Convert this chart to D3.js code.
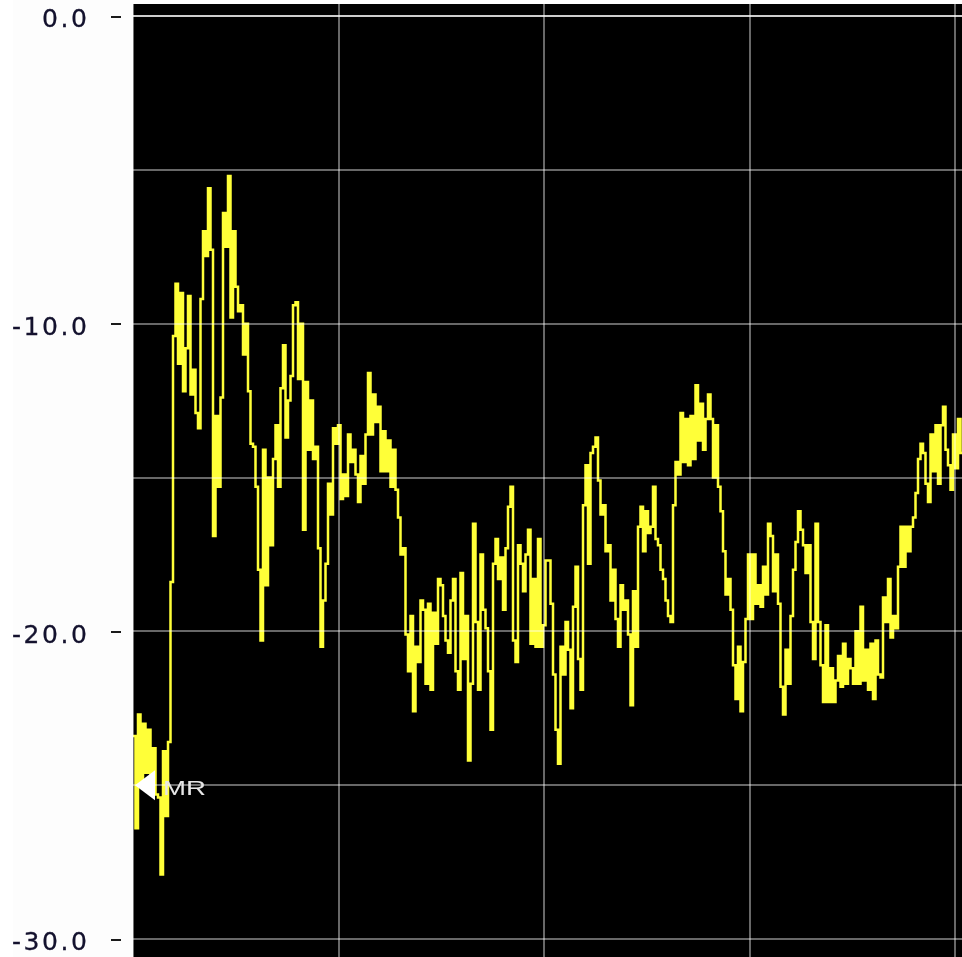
<!DOCTYPE html>
<html><head><meta charset="utf-8">
<script src="https://cdn.jsdelivr.net/npm/d3@7"></script>
<style>html,body{margin:0;padding:0;background:#fdfdfd;overflow:hidden}</style>
</head><body><svg id="c" width="962" height="957"></svg>
<script>
// ---- data ----
const yGridValues = [0, -5, -10, -15, -20, -25, -30];
const yLabelValues = [0, -10, -20, -30];
const xDivisions = [0, 1, 2, 3, 4];
const samplesPerDivision = 82.2;
const markerLevel = -25;
const markerLabel = "MR";
const trace = [
  -23.4, -26.4, -22.7, -25.0, -23.0, -24.6, -23.2, -24.8, -23.8, -25.3, -25.4, -27.9, -23.9, -26.0, -23.6, -18.4,
  -10.4, -8.7, -11.3, -9.0, -12.2, -10.8, -9.1, -12.3, -11.5, -12.9, -13.4, -9.2, -7.0, -7.8, -5.6, -7.6,
  -16.9, -13.0, -15.3, -12.4, -6.4, -7.5, -5.2, -9.8, -7.0, -8.8, -9.6, -9.4, -11.0, -10.0, -12.2, -13.9,
  -14.0, -15.3, -18.0, -20.3, -14.1, -18.5, -15.0, -17.2, -14.4, -13.3, -15.3, -12.1, -10.7, -13.7, -12.5, -11.7,
  -9.4, -9.3, -11.8, -10.0, -16.7, -11.9, -14.1, -12.5, -14.4, -14.0, -17.3, -20.5, -19.0, -17.8, -15.2, -16.2,
  -13.4, -13.9, -13.3, -15.7,
  -14.9, -15.6, -13.6, -14.5, -14.1, -14.9, -15.8, -14.3, -15.2, -13.6, -11.6, -13.6, -12.3, -13.2, -12.7, -14.8,
  -13.5, -14.8, -13.8, -15.3, -14.1, -15.4, -16.3, -17.5, -17.3, -20.1, -21.3, -19.5, -22.6, -20.5, -21.0, -19.0,
  -19.3, -21.7, -19.1, -21.9, -19.4, -20.4, -18.3, -18.5, -19.5, -20.3, -20.7, -19.0, -18.3, -21.3, -21.9, -18.1,
  -20.9, -19.5, -24.2, -21.7, -16.5, -19.7, -21.9, -17.5, -19.3, -19.9, -21.3, -23.2, -17.8, -17.0, -18.3, -17.6,
  -19.3, -17.3, -15.95, -15.3, -20.3, -21.0, -17.2, -17.8, -18.7, -17.5, -16.7, -20.4, -18.3, -20.5, -17.0, -20.5, -19.8,
  -17.7, -17.7, -19.1, -21.4, -23.2, -24.3, -20.5, -21.4, -19.7, -20.6, -22.5, -19.2, -17.9, -20.9, -21.9, -15.9,
  -14.6, -17.8, -14.2, -14.0, -13.7, -15.1, -16.2, -15.9, -17.4, -17.2, -19.0, -18.0, -19.6, -20.5, -18.5, -19.3,
  -19.0, -20.1, -22.4, -18.7, -20.5, -16.6, -15.95, -17.4, -16.1, -16.8, -16.6, -15.3, -17.0, -17.2, -18.0, -18.3,
  -19.0, -19.5, -19.7, -15.9, -14.5, -14.9, -12.9, -14.5, -13.1, -14.6, -13.0, -14.4, -12.0, -13.8, -12.6, -14.1,
  -13.1, -12.3, -13.1, -15.0, -13.3, -15.3, -16.1, -17.4, -18.8, -18.3, -19.3, -21.1, -22.2, -20.5, -22.6, -21.0, -19.6, -17.5,
  -19.6, -17.5, -19.1, -18.5, -19.2, -17.9, -18.8, -16.5, -16.9, -18.7, -17.5, -19.1, -21.8, -22.7, -20.6, -21.7,
  -19.5, -18.0, -17.1, -16.1, -16.7, -17.2, -18.1, -17.2, -19.7, -20.9, -16.5, -19.7, -21.1, -22.3, -19.8, -22.3,
  -21.2, -22.3, -21.6, -20.8, -21.8, -20.4, -21.7, -20.9, -21.2, -21.7, -20.0, -21.7, -19.2, -21.6, -20.6, -21.9,
  -20.4, -22.2, -20.3, -21.4, -21.5, -18.9, -19.7, -18.3, -20.2, -19.5, -19.9, -17.9, -16.6, -17.9, -16.6, -17.4,
  -16.6, -16.3, -15.5, -14.4, -13.9, -14.2, -15.2, -15.8, -13.6, -14.8, -13.3, -15.2, -13.3, -12.7, -14.1, -14.6,
  -15.4, -13.6, -14.7, -13.1, -14.2, -14.2
];

// ---- layout ----
const W = 962, H = 957;
const plotLeft = 133, plotRight = 962, plotTop = 4, plotBottom = 957;
const y = d3.scaleLinear().domain([0, -30]).range([16, 939]);
const x = d3.scaleLinear().domain([0, 4]).range([133, 955]);

const svg = d3.select("#c");
svg.append("rect").attr("x", 0).attr("y", 0).attr("width", W).attr("height", H).attr("fill", "#fdfdfd");
svg.append("rect").attr("x", 0).attr("y", 0).attr("width", 13).attr("height", H).attr("fill", "#ffffff");

svg.append("rect").attr("x", plotLeft).attr("y", plotTop)
  .attr("width", plotRight - plotLeft).attr("height", plotBottom - plotTop).attr("fill", "#000");

svg.append("defs").append("clipPath").attr("id", "clip")
  .append("rect").attr("x", plotLeft).attr("y", plotTop)
  .attr("width", plotRight - plotLeft).attr("height", plotBottom - plotTop);

// Trace (drawn below the grid)
const line = d3.line()
  .x((d, i) => x(i / samplesPerDivision))
  .y(d => y(d))
  .curve(d3.curveStepAfter);
svg.append("path").datum(trace)
  .attr("clip-path", "url(#clip)")
  .attr("d", line)
  .attr("fill", "none").attr("stroke", "#ffff38").attr("stroke-width", 2.5);

// Grid on top, screen-blended so it lightens the trace where it crosses
const grid = svg.append("g").attr("shape-rendering", "crispEdges");
grid.selectAll("line.h").data(yGridValues).join("line").attr("class", "h")
  .attr("x1", plotLeft).attr("x2", plotRight)
  .attr("y1", d => Math.round(y(d))).attr("y2", d => Math.round(y(d)))
  .attr("stroke", d => d === 0 ? "#cdcdcd" : "#686868")
  .style("mix-blend-mode", "screen")
  .attr("stroke-width", 2);
grid.selectAll("line.v").data(xDivisions).join("line").attr("class", "v")
  .attr("x1", d => Math.round(x(d))).attr("x2", d => Math.round(x(d)))
  .attr("y1", plotTop).attr("y2", plotBottom)
  .attr("stroke", d => d === 0 ? "#747474" : "#686868")
  .style("mix-blend-mode", "screen")
  .attr("stroke-width", 2);

// Y axis labels and tick dashes
const axis = d3.axisLeft(y).tickValues(yLabelValues)
  .tickFormat(d => d.toFixed(1)).tickSize(10).tickPadding(24);
const ag = svg.append("g").attr("transform", "translate(121,0)").call(axis);
ag.select(".domain").remove();
ag.selectAll(".tick line").attr("stroke", "#1a1a1a").attr("stroke-width", 2).attr("shape-rendering", "crispEdges");
ag.selectAll(".tick text")
  .attr("font-family", "'DejaVu Sans', Verdana, sans-serif")
  .attr("font-size", 25).attr("fill", "#14122e").attr("dy", "0.43em")
  .attr("stroke", "#14122e").attr("stroke-width", 0.3)
  .attr("textLength", function() { return this.textContent.length * 15; })
  .attr("lengthAdjust", "spacing");

// Reference marker
const my = y(markerLevel);
const mx = x(0);
svg.append("path")
  .attr("d", `M${mx + 2},${my} L${mx + 22},${my - 15} L${mx + 22},${my + 15} Z`)
  .attr("fill", "#ffffff");
svg.append("text").attr("x", mx + 30).attr("y", my + 10)
  .attr("font-family", "'Liberation Sans', Arial, sans-serif").attr("font-size", 21)
  .attr("fill", "#e6e6e6").attr("textLength", 43).attr("lengthAdjust", "spacingAndGlyphs")
  .text(markerLabel);
</script>
</body></html>
